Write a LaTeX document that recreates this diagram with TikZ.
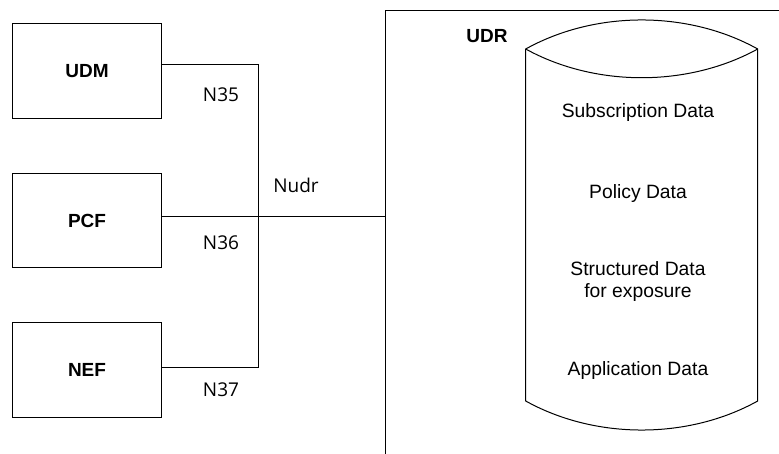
\documentclass[tikz,border=0pt]{standalone}
\usepackage{fontspec}
\setmainfont{Liberation Sans}
\newfontfamily\ifont{Open Sans}
\begin{document}
\begin{tikzpicture}[x=1pt,y=-1pt,line width=1pt,
  nfbox/.style={draw,minimum width=149.3pt,minimum height=94.4pt,anchor=north west,inner sep=0pt},
  boxlbl/.style={font=\fontsize{19}{22.7}\selectfont\bfseries,anchor=base},
  iflbl/.style={font=\ifont\fontsize{19}{22.7}\selectfont,anchor=base},
  dblbl/.style={font=\fontsize{19.3}{22.7}\selectfont,anchor=base,align=center}]
\useasboundingbox (0,0) rectangle (779,454);
\clip (0,0) rectangle (779,454);
% network functions
\node[nfbox] (udm) at (11.7,23.3) {};
\node[nfbox] (pcf) at (11.7,172.8) {};
\node[nfbox] (nef) at (11.7,322.3) {};
\node[boxlbl] (udmt) at (87,77.3) {UDM};
\node[boxlbl] (pcft) at (87,227.7) {PCF};
\node[boxlbl] (neft) at (87,376) {NEF};
% UDR frame (open to right and bottom)
\node[draw,minimum width=500pt,minimum height=500pt,anchor=north west,inner sep=0pt] (udr) at (384.5,10) {};
\node[boxlbl] (udrt) at (487,42.3) {UDR};
% bus
\coordinate (j1) at (258.5,64.7);
\coordinate (j2) at (258.5,216.7);
\coordinate (j3) at (258.5,367);
\draw (udm.east |- j1) -- (j1) -- (j3) -- (nef.east |- j3);
\draw (pcf.east |- j2) -- (j2 -| udr.west);
\node[iflbl] (n35) at (221,101.7) {N35};
\node[iflbl] (n36) at (221,250) {N36};
\node[iflbl] (n37) at (221,396.7) {N37};
\node[iflbl] (nudr) at (296,193) {Nudr};
% database cylinder
\draw (525.7,49) -- (525.7,401)
  .. controls (595.3,439.7) and (688.1,439.7) .. (757.7,401)
  -- (757.7,49)
  .. controls (688.1,10.3) and (595.3,10.3) .. (525.7,49) -- cycle;
\draw (525.7,49) .. controls (595.3,87.3) and (688.1,87.3) .. (757.7,49);
\node[dblbl] (sub) at (638,117.3) {Subscription Data};
\node[dblbl] (pol) at (638,198.3) {Policy Data};
\node[dblbl] (str) at (638,297.7) {Structured Data\\for exposure};
\node[dblbl] (app) at (638,375) {Application Data};
\end{tikzpicture}
\end{document}
